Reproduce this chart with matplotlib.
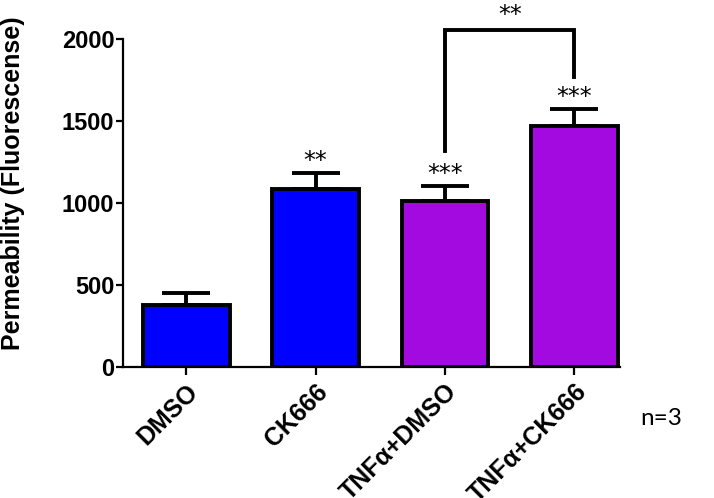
import numpy as np
import matplotlib
matplotlib.use('Agg')
import matplotlib.pyplot as plt
import matplotlib.transforms as mtransforms

groups = ['DMSO', 'CK666', 'TNF\u03b1+DMSO', 'TNF\u03b1+CK666']
means = [380, 1085, 1012, 1470]
sems = [73, 98, 92, 103]
stars = ['', '**', '***', '***']
colors = ['#0000FF', '#0000FF', '#A30AE0', '#A30AE0']

# comparison bracket: left group, right group, height, label
bracket = (2, 3, 2055, '**')

plt.rcParams['font.family'] = ['Liberation Sans', 'DejaVu Sans']

fig = plt.figure(figsize=(7.14, 4.98), dpi=100)
ax = fig.add_axes([0.172, 0.263, 0.696, 0.659])

x = np.arange(len(groups))
ax.errorbar(x, means, yerr=[np.zeros(len(sems)), sems], fmt='none',
            ecolor='black', elinewidth=2.8, capsize=17, capthick=2.8, zorder=1)
ax.bar(x, means, width=0.67, color=colors, edgecolor='black',
       linewidth=2.8, zorder=2)

tops = np.array(means) + np.array(sems)
for xi, t, s in zip(x, tops, stars):
    if s:
        ax.annotate(s, (xi, t), xytext=(0, 0), textcoords='offset points',
                    ha='center', va='bottom', fontsize=17,
                    family='DejaVu Sans')

l, r, h, lab = bracket
ax.plot([l, l, r, r], [tops[l] + 210, h, h, tops[r] + 195], color='black',
        lw=2.8, clip_on=False, solid_joinstyle='miter')
ax.text((l + r) / 2, h + 15, lab, ha='center', va='bottom', fontsize=17,
        family='DejaVu Sans')

ax.set_xlim(-0.49, 3.35)
ax.set_ylim(0, 2000)
ax.set_yticks([0, 500, 1000, 1500, 2000])
ax.set_xticks(x)
ax.set_xticklabels(groups, rotation=45, ha='right', va='top',
                   rotation_mode='anchor', fontweight='bold', fontsize=18)
shift = mtransforms.ScaledTranslation(-4 / 72, 0, fig.dpi_scale_trans)
for lbl in ax.get_xticklabels():
    lbl.set_transform(lbl.get_transform() + shift)
for lbl in ax.get_yticklabels():
    lbl.set_fontweight('bold')
    lbl.set_fontsize(17)

for side in ['top', 'right']:
    ax.spines[side].set_visible(False)
for side in ['left', 'bottom']:
    ax.spines[side].set_linewidth(1.6)
ax.tick_params(axis='y', length=5, width=1.6, pad=1)
ax.tick_params(axis='x', length=6, width=1.6, pad=3)

ax.set_ylabel('Permeability (Fluorescense)', fontweight='bold', fontsize=18)
ax.yaxis.set_label_coords(-0.197, 0.56)

fig.text(0.897, 0.16, 'n=3', fontsize=17.5, family='Lato', va='center')

fig.savefig('out.png', dpi=100)
